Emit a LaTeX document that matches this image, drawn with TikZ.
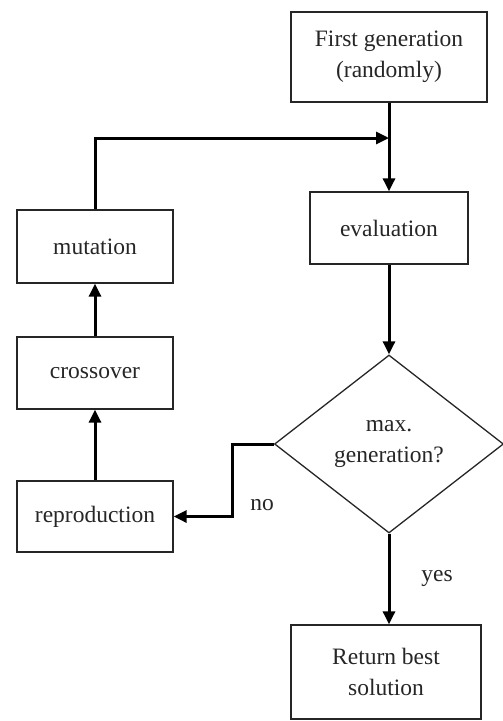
\documentclass[tikz,border=0pt]{standalone}
\usepackage{fontspec}
\setmainfont{Liberation Serif}
\usetikzlibrary{arrows.meta,shapes.geometric}

\begin{document}
\begin{tikzpicture}[x=1pt,y=-1pt, every node/.style={font=\fontsize{23.5}{31}\selectfont, text=black!85},
        stage/.style={rectangle, draw=black!85, line width=1.3pt, align=center, inner sep=0},
        flow/.style={line width=3pt, -{Triangle[length=13pt,width=12pt]}}]

        \useasboundingbox (0,0) rectangle (503,721);

        %===========================
        % Main column
        %===========================

        \draw node (fg) at (389,57) [stage, minimum width=196, minimum height=90]{First generation\\(randomly)};
        \draw node (eval) at (389,228) [stage, minimum width=158, minimum height=72]{evaluation};
        \draw node (maxgen) at (389,444) [diamond, draw=black!85, line width=1.3pt, align=center, inner sep=0, minimum width=229, minimum height=178]{max.\\generation?};
        \draw node (ret) at (386,672) [stage, minimum width=190, minimum height=94]{Return best\\solution};

        %===========================
        % Loop column
        %===========================

        \draw node (mut) at (95,246.5) [stage, minimum width=156, minimum height=73]{mutation};
        \draw node (cross) at (95,373) [stage, minimum width=156, minimum height=72]{crossover};
        \draw node (repro) at (95,516.5) [stage, minimum width=156, minimum height=71]{reproduction};

        \coordinate (join) at (389,138);
        \coordinate (bend) at (232,444);

        %===========================
        % Arrows
        %===========================

        \draw[flow] (fg) to (eval);
        \draw[flow] (eval) to (maxgen);
        \draw[flow] (maxgen.south) to (maxgen.south |- ret.north);
        \draw[flow] (repro) to (cross);
        \draw[flow] (cross) to (mut);
        \draw[flow] (mut.north) |- (join);
        \draw[flow] (maxgen.west) -- (bend) |- (repro.east);

        \node at (262,505) {no};
        \node at (437,578) {yes};

\end{tikzpicture}
\end{document}
